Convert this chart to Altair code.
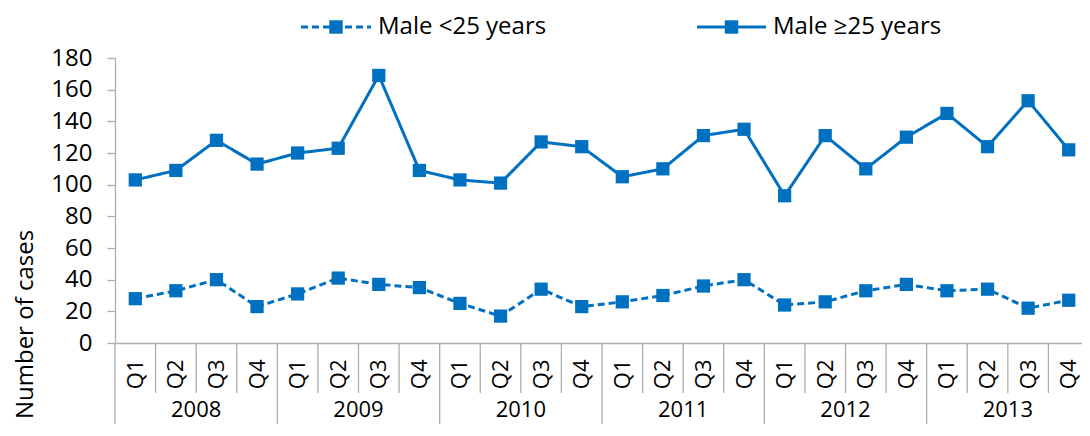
import json
import altair as alt
import pandas as pd

# ---- data ----
YEARS = ["2008", "2009", "2010", "2011", "2012", "2013"]
QUARTERS = ["Q1", "Q2", "Q3", "Q4"]
SERIES = ["Male <25 years", "Male \u226525 years"]

MALE_UNDER25 = [28, 33, 40, 23,
                31, 41, 37, 35,
                25, 17, 34, 23,
                26, 30, 36, 40,
                24, 26, 33, 37,
                33, 34, 22, 27]
MALE_25PLUS = [103, 109, 128, 113,
               120, 123, 169, 109,
               103, 101, 127, 124,
               105, 110, 131, 135,
               93, 131, 110, 130,
               145, 124, 153, 122]
Y_TICKS = list(range(0, 181, 20))

# ---- styling ----
BLUE = "#0070C0"
GRAY = "#ADADAD"
FONT = "Open Sans"
W, H = 974, 285

n = len(YEARS) * len(QUARTERS)
q_labels = [q for _ in YEARS for q in QUARTERS]

rows = []
for name, vals in zip(SERIES, [MALE_UNDER25, MALE_25PLUS]):
    for i, v in enumerate(vals):
        rows.append({"series": name, "pos": i + 0.5, "value": v})
df = pd.DataFrame(rows)

xscale = alt.Scale(domain=[0, n], nice=False, zero=False)
yscale = alt.Scale(domain=[0, 180], nice=False)

x_axis = alt.Axis(
    values=[i + 0.5 for i in range(n)],
    labelExpr=json.dumps(q_labels) + "[floor(datum.value)]",
    ticks=False, grid=False, domainColor=GRAY, domainWidth=1.3,
    labelAngle=-90, labelAlign="right", labelBaseline="middle",
    labelPadding=16, labelFont=FONT, labelFontSize=22, labelColor="black",
    labelOverlap=False, labelFlush=False, title=None,
)
y_axis = alt.Axis(
    values=Y_TICKS, tickCount=len(Y_TICKS), grid=False,
    domainColor=GRAY, domainWidth=1.3,
    tickColor=GRAY, tickWidth=1.3, tickSize=8,
    labelPadding=15, labelFont=FONT, labelFontSize=24, labelColor="black",
    labelOverlap=False, labelFlush=False,
    title="Number of cases", titleFont=FONT, titleFontSize=24,
    titleFontWeight="normal", titleColor="black",
    titleX=-90, titleY=266, titleAngle=-90, titleAlign="center",
    titleBaseline="middle",
)

dash = alt.Scale(domain=SERIES, range=[[7, 4], [1, 0]])

base = alt.Chart(df)
lines = base.mark_line(color=BLUE, strokeWidth=3).encode(
    x=alt.X("pos:Q", scale=xscale, axis=x_axis),
    y=alt.Y("value:Q", scale=yscale, axis=y_axis),
    strokeDash=alt.StrokeDash("series:N", scale=dash, legend=None),
    detail="series:N",
)
points = base.mark_square(color=BLUE, size=175, opacity=1, filled=True).encode(
    x=alt.X("pos:Q", scale=xscale, axis=x_axis),
    y=alt.Y("value:Q", scale=yscale, axis=y_axis),
    detail="series:N",
)

# category separators
qsep = pd.DataFrame({"b": [i for i in range(1, n) if i % 4 != 0]})
ysep = pd.DataFrame({"b": [i for i in range(0, n + 1, 4)]})
q_rules = alt.Chart(qsep).mark_rule(color=GRAY, strokeWidth=1.3).encode(
    x=alt.X("b:Q", scale=xscale, axis=x_axis), y=alt.value(H), y2=alt.value(H + 50)
)
y_rules = alt.Chart(ysep).mark_rule(color=GRAY, strokeWidth=1.3).encode(
    x=alt.X("b:Q", scale=xscale, axis=x_axis), y=alt.value(H), y2=alt.value(H + 110)
)
year_df = pd.DataFrame({"year": YEARS, "mid": [k * 4 + 2 for k in range(len(YEARS))]})
year_text = alt.Chart(year_df).mark_text(
    font=FONT, fontSize=22, color="black", baseline="middle", align="center"
).encode(x=alt.X("mid:Q", scale=xscale, axis=x_axis), y=alt.value(H + 67), text="year:N")

# legend
LY = -31
legend_layers = []
for name, (x0, x1, xt), d in zip(
    SERIES, [(186, 256, 263), (582, 651, 658)], [[7, 4], [1, 0]]
):
    ldf = pd.DataFrame({"series": [name]})
    lb = alt.Chart(ldf)
    legend_layers.append(
        lb.mark_rule(color=BLUE, strokeWidth=3, strokeDash=d).encode(
            x=alt.value(x0), x2=alt.value(x1), y=alt.value(LY)
        )
    )
    legend_layers.append(
        lb.mark_square(color=BLUE, size=180, opacity=1, filled=True).encode(
            x=alt.value((x0 + x1) / 2), y=alt.value(LY)
        )
    )
    legend_layers.append(
        lb.mark_text(font=FONT, fontSize=24, color="black", align="left",
                     baseline="middle").encode(
            x=alt.value(xt), y=alt.value(LY), text="series:N"
        )
    )

chart = alt.layer(
    lines, points, q_rules, y_rules, year_text, *legend_layers
).properties(
    width=W, height=H,
    autosize=alt.AutoSizeParams(type="none"),
    padding={"left": 107, "top": 50, "right": -7, "bottom": 81},
    background="white",
).configure_view(stroke=None).configure_axisY(labelOverlap=False)

chart.save("out.html", embed_options={"renderer": "svg", "actions": False})
